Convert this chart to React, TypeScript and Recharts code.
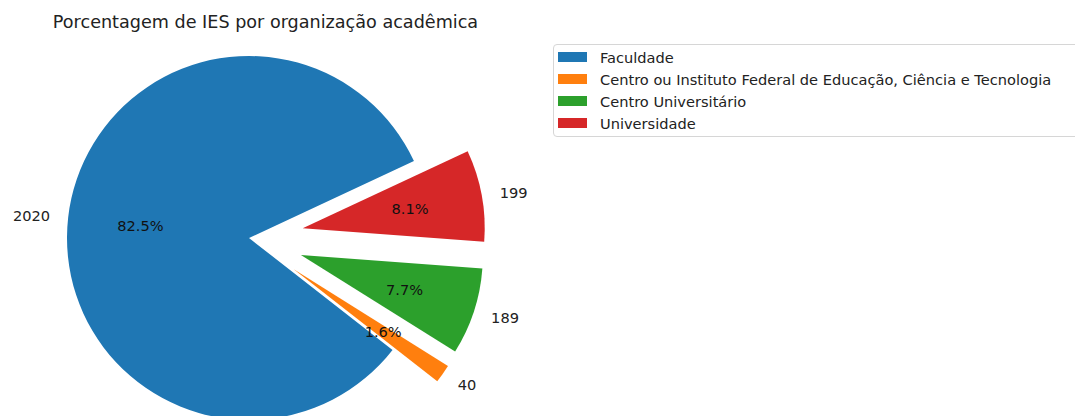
import { PieChart, Pie, Cell, Legend } from 'recharts'

const categories = [
  'Faculdade',
  'Centro ou Instituto Federal de Educação, Ciência e Tecnologia',
  'Centro Universitário',
  'Universidade',
]
const counts = [2020, 40, 189, 199]
const explode = [0, 0.3, 0.3, 0.3]
const colors = ['#1f77b4', '#ff7f0e', '#2ca02c', '#d62728']

const data = categories.map((name, i) => ({ name, value: counts[i] }))
const total = counts.reduce((a, b) => a + b, 0)

const CX = 249
const CY = 238
const R = 182
const START = 25
const FONT = "'DejaVu Sans', sans-serif"

// offset of each wedge along its middle angle (like matplotlib explode)
const offsets = counts.map((v, i) => {
  const before = counts.slice(0, i).reduce((a, b) => a + b, 0)
  const mid = START + ((before + v / 2) / total) * 360
  const rad = (mid * Math.PI) / 180
  return { dx: explode[i] * R * Math.cos(rad), dy: -explode[i] * R * Math.sin(rad) }
})

const makeLabel = (slice: number) => (props: any) => {
  if (props.index !== slice) return null
  const { cx, cy, midAngle, outerRadius, percent, value } = props
  const rad = (-midAngle * Math.PI) / 180
  const ox = cx + outerRadius * 1.1 * Math.cos(rad)
  const oy = cy + outerRadius * 1.1 * Math.sin(rad)
  const px = cx + outerRadius * 0.6 * Math.cos(rad)
  const py = cy + outerRadius * 0.6 * Math.sin(rad)
  return (
    <g>
      <text x={ox} y={oy} textAnchor={ox > cx ? 'start' : 'end'} dominantBaseline="central"
        fill="#222" fontSize={14.6} fontFamily={FONT}>
        {value}
      </text>
      <text x={px} y={py} textAnchor="middle" dominantBaseline="central"
        fill="#111" fontSize={14.6} fontFamily={FONT}>
        {(percent * 100).toFixed(1)}%
      </text>
    </g>
  )
}

const renderLegend = () => (
  <div style={{
    border: '1px solid #d6d6d6',
    borderRadius: 4,
    background: '#fff',
    width: 540,
    height: 93,
    boxSizing: 'border-box',
    padding: '1px 0 0 4px',
    fontFamily: FONT,
    fontSize: 14.6,
    color: '#222',
  }}>
    {categories.map((c, i) => (
      <div key={c} style={{ display: 'flex', alignItems: 'center', height: 22, whiteSpace: 'nowrap' }}>
        <span style={{ display: 'inline-block', width: 29, height: 10, background: colors[i], marginRight: 13 }} />
        <span>{c}</span>
      </div>
    ))}
  </div>
)

export default function App() {
  return (
    <div style={{ position: 'relative', width: 1075, height: 416, overflow: 'hidden', background: '#fff' }}>
      <style>{'body{margin:0}'}</style>
      <div style={{
        position: 'absolute', left: 0, top: 11, width: 531, textAlign: 'center',
        fontFamily: FONT, fontSize: 17.6, lineHeight: '22px', color: '#222',
      }}>
        Porcentagem de IES por organização acadêmica
      </div>
      <PieChart width={1075} height={416} margin={{ top: 0, right: 0, bottom: 0, left: 0 }}>
        {offsets.map((o, slice) => (
          <Pie
            key={slice}
            data={data}
            dataKey="value"
            nameKey="name"
            cx={CX + o.dx}
            cy={CY + o.dy}
            outerRadius={R}
            startAngle={START}
            endAngle={START + 360}
            stroke="none"
            labelLine={false}
            label={makeLabel(slice)}
            isAnimationActive={false}
          >
            {data.map((d, i) => (
              <Cell key={d.name} fill={i === slice ? colors[i] : 'none'} />
            ))}
          </Pie>
        ))}
        <Legend
          content={renderLegend}
          wrapperStyle={{ position: 'absolute', left: 553, top: 44, width: 540, height: 93 }}
        />
      </PieChart>
    </div>
  )
}
